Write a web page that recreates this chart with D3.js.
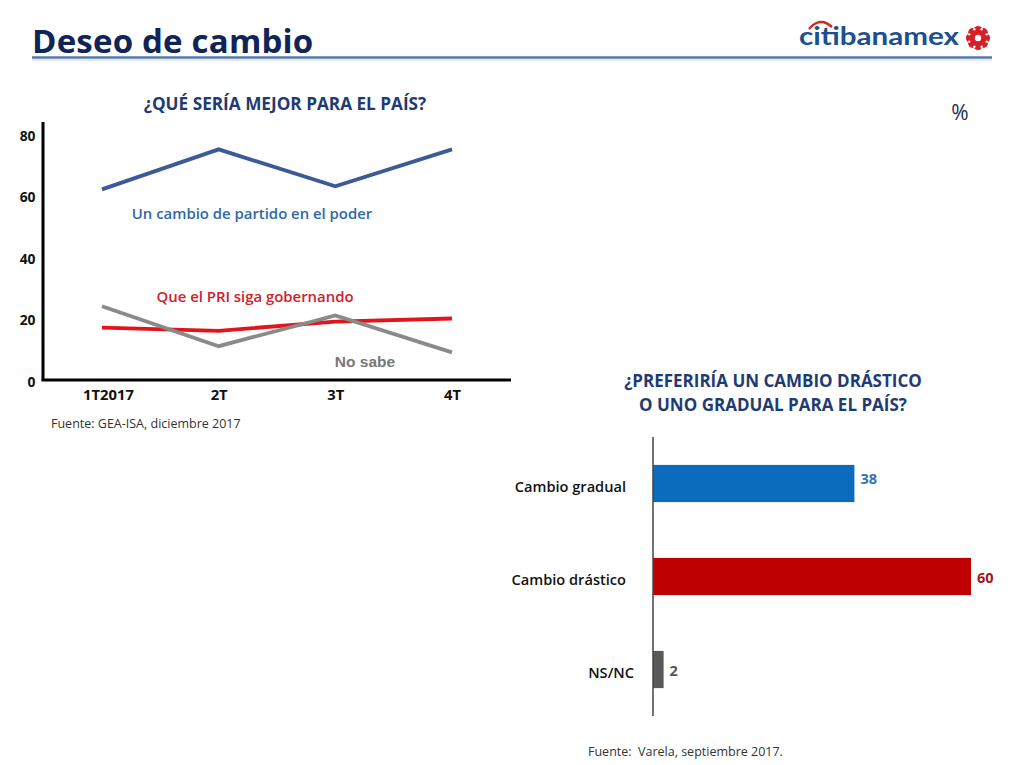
<!DOCTYPE html>
<html>
<head>
<meta charset="utf-8">
<script src="https://cdn.jsdelivr.net/npm/d3@7"></script>
<style>
  html, body { margin: 0; padding: 0; background: #ffffff; }
  svg { display: block; }
  text { font-family: "Open Sans", Lato, sans-serif; }
</style>
</head>
<body>
<div id="chart"></div>
<script>
// ---------- DATA ----------
const quarters = ["1T2017", "2T", "3T", "4T"];
const yTicks = [0, 20, 40, 60, 80];
const seriesNames = ["Un cambio de partido en el poder", "Que el PRI siga gobernando", "No sabe"];
const cambioPartido = [62, 75, 63, 75];
const priSiga = [17, 16, 19, 20];
const noSabe = [24, 11, 21, 9];

const barCategories = ["Cambio gradual", "Cambio drástico", "NS/NC"];
const barValues = [38, 60, 2];

// ---------- SETUP ----------
const W = 1023, H = 765;
const FONT = "'Open Sans', Lato, sans-serif";
const svg = d3.select("#chart").append("svg").attr("width", W).attr("height", H);
svg.append("rect").attr("width", W).attr("height", H).attr("fill", "#ffffff");

// ---------- HEADER ----------
svg.append("text").attr("x", 32).attr("y", 53)
  .attr("font-size", 33).attr("font-weight", 700).attr("fill", "#0f2557")
  .attr("letter-spacing", 0.2)
  .text("Deseo de cambio");
svg.append("line").attr("x1", 32).attr("x2", 992).attr("y1", 57.5).attr("y2", 57.5)
  .attr("stroke", "#5578ad").attr("stroke-width", 2.6);
svg.append("line").attr("x1", 32).attr("x2", 992).attr("y1", 60).attr("y2", 60)
  .attr("stroke", "#c9d3e3").attr("stroke-width", 1.2);

// logo
const logo = svg.append("g");
logo.append("text").attr("x", 799).attr("y", 44.5)
  .attr("font-size", 25).attr("font-weight", 700).attr("fill", "#1b4f8f")
  .attr("textLength", 160).attr("lengthAdjust", "spacingAndGlyphs")
  .style("font-family", "Lato, sans-serif")
  .text("citibanamex");
logo.append("path").attr("d", "M809,29 Q820,16 832,27")
  .attr("fill", "none").attr("stroke", "#d9261c").attr("stroke-width", 2.4);
const fl = logo.append("g").attr("transform", "translate(978,38)");
d3.range(8).forEach(i => {
  const a = i * Math.PI / 4;
  fl.append("circle").attr("cx", 7.5 * Math.cos(a)).attr("cy", 7.5 * Math.sin(a)).attr("r", 4.6).attr("fill", "#d71f26");
});
fl.append("circle").attr("r", 5.2).attr("fill", "#d71f26");
fl.append("circle").attr("r", 3.2).attr("fill", "#ffffff");
d3.range(8).forEach(i => {
  const a = i * Math.PI / 4 + Math.PI / 8;
  fl.append("circle").attr("cx", 9.5 * Math.cos(a)).attr("cy", 9.5 * Math.sin(a)).attr("r", 1.2).attr("fill", "#ffffff");
});

svg.append("text").attr("x", 960).attr("y", 120).attr("text-anchor", "middle")
  .attr("font-size", 21).attr("font-weight", 400).attr("fill", "#1c2a4d").text("%");

// ---------- LINE CHART ----------
const x = d3.scalePoint().domain(quarters).range([102, 452]);
const y = d3.scaleLinear().domain([0, 80]).range([380, 134]);

svg.append("text").attr("x", 285).attr("y", 109.5).attr("text-anchor", "middle")
  .attr("font-size", 17.2).attr("font-weight", 700).attr("fill", "#1f3b73")
  .text("¿QUÉ SERÍA MEJOR PARA EL PAÍS?");

// axes lines
svg.append("line").attr("x1", 43).attr("x2", 43).attr("y1", 122).attr("y2", 380)
  .attr("stroke", "#000").attr("stroke-width", 3);
svg.append("line").attr("x1", 41.5).attr("x2", 511).attr("y1", y(0)).attr("y2", y(0))
  .attr("stroke", "#000").attr("stroke-width", 3);

// y tick labels
const yAxis = svg.append("g").attr("transform", "translate(35.5,0)")
  .call(d3.axisLeft(y).tickValues(yTicks).tickSize(0).tickPadding(0).tickFormat(d3.format("d")));
yAxis.select(".domain").remove();
yAxis.selectAll("text").attr("font-size", 13.8).attr("font-weight", 700).attr("fill", "#111")
  .attr("font-family", FONT).attr("dy", "0.45em");

// x tick labels
const xAxis = svg.append("g").attr("transform", `translate(0,${y(0)})`)
  .call(d3.axisBottom(x).tickSize(0).tickPadding(9));
xAxis.select(".domain").remove();
xAxis.selectAll("text").attr("font-size", 14.8).attr("font-weight", 700).attr("fill", "#111")
  .attr("font-family", FONT)
  .attr("dx", (d, i) => i === 0 ? 6 : 0);

const lineGen = d3.line().x((d, i) => x(quarters[i])).y(d => y(d));
const lineSeries = [
  { name: seriesNames[0], values: cambioPartido, color: "#3d5a98" },
  { name: seriesNames[1], values: priSiga, color: "#e3141c" },
  { name: seriesNames[2], values: noSabe, color: "#8a8a8a" }
];
// draw order: red, gray, blue
[lineSeries[1], lineSeries[2], lineSeries[0]].forEach(s => {
  svg.append("path").datum(s.values).attr("d", lineGen)
    .attr("fill", "none").attr("stroke", s.color).attr("stroke-width", 3.8)
    .attr("stroke-linejoin", "miter");
});

// series labels
svg.append("text").attr("x", 252).attr("y", 218.5).attr("text-anchor", "middle")
  .attr("font-size", 14.9).attr("font-weight", 600).attr("fill", "#2f69a6").text(seriesNames[0]);
svg.append("text").attr("x", 255).attr("y", 301.5).attr("text-anchor", "middle")
  .attr("font-size", 14.9).attr("font-weight", 600).attr("fill", "#d2202a").text(seriesNames[1]);
svg.append("text").attr("x", 365).attr("y", 366.5).attr("text-anchor", "middle")
  .attr("font-size", 15.5).attr("font-weight", 700).attr("fill", "#777777")
  .style("font-family", "'Liberation Sans', Arial, sans-serif").text(seriesNames[2]);

svg.append("text").attr("x", 51).attr("y", 428)
  .attr("font-size", 12.5).attr("font-weight", 400).attr("fill", "#333").text("Fuente: GEA-ISA, diciembre 2017");

// ---------- BAR CHART ----------
const bx = d3.scaleLinear().domain([0, 60]).range([653, 971]);
const by = d3.scaleBand().domain(barCategories).range([437, 716]).paddingInner(0.6).paddingOuter(0.3);
const barColors = ["#0b6cbd", "#bd0000", "#595959"];
const valueColors = ["#2e74b5", "#a0191f", "#555555"];

svg.append("text").attr("x", 773).attr("y", 387).attr("text-anchor", "middle")
  .attr("font-size", 17).attr("font-weight", 700).attr("fill", "#1f3b73").text("¿PREFERIRÍA UN CAMBIO DRÁSTICO");
svg.append("text").attr("x", 773).attr("y", 410.5).attr("text-anchor", "middle")
  .attr("font-size", 17).attr("font-weight", 700).attr("fill", "#1f3b73").text("O UNO GRADUAL PARA EL PAÍS?");

svg.selectAll("rect.bar").data(barValues).enter().append("rect").attr("class", "bar")
  .attr("x", bx(0)).attr("y", (d, i) => by(barCategories[i]))
  .attr("width", d => bx(d) - bx(0)).attr("height", by.bandwidth())
  .attr("fill", (d, i) => barColors[i]);

svg.append("line").attr("x1", bx(0)).attr("x2", bx(0)).attr("y1", 437).attr("y2", 716)
  .attr("stroke", "#444").attr("stroke-width", 1.5);

svg.selectAll("text.val").data(barValues).enter().append("text").attr("class", "val")
  .attr("x", d => bx(d) + 6).attr("y", (d, i) => by(barCategories[i]) + by.bandwidth() / 2 + (i === 0 ? 0 : 1))
  .attr("dy", (d, i) => i === 0 ? "0.05em" : "0.35em")
  .attr("font-size", 14.5).attr("font-weight", 700).attr("fill", (d, i) => valueColors[i]).text(d => d);

const catAxis = svg.append("g").attr("transform", "translate(626,0)")
  .call(d3.axisLeft(by).tickSize(0).tickPadding(0));
catAxis.select(".domain").remove();
catAxis.selectAll("text").attr("font-size", 14.6).attr("font-weight", 600).attr("fill", "#111")
  .attr("font-family", FONT)
  .attr("dx", d => d === "NS/NC" ? 8 : 0).attr("dy", "0.6em");

svg.append("text").attr("x", 588).attr("y", 756)
  .attr("font-size", 12.5).attr("font-weight", 400).attr("fill", "#333").attr("xml:space", "preserve")
  .text("Fuente:  Varela, septiembre 2017.");
</script>
</body>
</html>
